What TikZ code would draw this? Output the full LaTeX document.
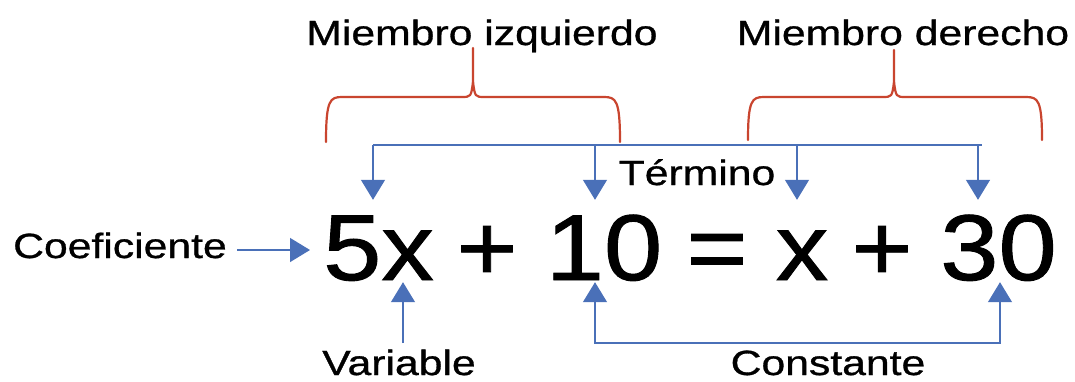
\documentclass[tikz,border=0pt]{standalone}
\usepackage{fontspec}
\usetikzlibrary{arrows.meta,positioning,calc}
\newfontfamily\lblfont{Liberation Sans}[FakeStretch=1.22,FakeBold=0.9]
\newfontfamily\eqfont{Liberation Sans}[FakeStretch=1.12,FakeBold=1]
\definecolor{BL}{HTML}{4A70B8}
\definecolor{RD}{HTML}{C9452F}

\tikzset{
  lbl/.style={font=\lblfont\fontsize{35}{40}\selectfont, anchor=base, inner sep=0pt},
  eqterm/.style={font=\eqfont\fontsize{93.5}{100}\selectfont, anchor=base,
                 inner sep=0pt, text height=80pt, text depth=2pt},
  bline/.style={draw=BL, line width=1.3pt},
  barrow/.style={bline, -{Triangle[width=24pt,length=20pt]}},
  bboth/.style={bline, {Triangle[width=24pt,length=20pt]}-{Triangle[width=24pt,length=20pt]}},
  brace/.style={draw=RD, line width=2.2pt, line cap=round, line join=round}
}

\begin{document}
\begin{tikzpicture}[x=1pt,y=-1pt]
    \path[use as bounding box, fill=white] (0,0) rectangle (1075,381);

    % equation
    \node[eqterm] (t5x)   at (378.5,280) {5x};
    \node[eqterm] (tpla)  at (487,280)   {+};
    \node[eqterm] (t10)   at (604,280)   {10};
    \node[eqterm] (teq)   at (717,280)   {=};
    \node[eqterm] (tx)    at (802,280)   {x};
    \node[eqterm] (tplb)  at (882,280)   {+};
    \node[eqterm] (t30)   at (998.5,280) {30};

    % labels
    \node[lbl] (izq)   at (482,45)  {Miembro izquierdo};
    \node[lbl] (der)   at (903,45)  {Miembro derecho};
    \node[lbl] (term)  at (697,185) {Término};
    \node[lbl] (coef)  at (120,258) {Coeficiente};
    \node[lbl] (var)   at (399,375) {Variable};
    \node[lbl] (const) at (828,375) {Constante};

    % braces
    \draw[brace] (326,142) .. controls (326,100) and (330,97) .. (342,97) -- (461,97)
                 .. controls (471,97) .. (473,82) -- (473,48);
    \draw[brace] (473,82) .. controls (475,97) .. (485,97) -- (604,97)
                 .. controls (616,97) and (620,100) .. (620,142);
    \draw[brace] (748,140) .. controls (748,100) and (752,97) .. (764,97) -- (882,97)
                 .. controls (892,97) .. (894,82) -- (894,50);
    \draw[brace] (894,82) .. controls (896,97) .. (906,97) -- (1026,97)
                 .. controls (1038,97) and (1042,100) .. (1042,140);

    % terminos
    \coordinate (tl) at (373,145);
    \coordinate (tr) at (982,145);
    \draw[bline] (tl) -- (tr);
    \draw[barrow] ([xshift=-5.5pt]t5x.north |- tl) -- ([xshift=-5.5pt]t5x.north);
    \draw[barrow] ([xshift=-9pt]t10.north |- tl) -- ([xshift=-9pt]t10.north);
    \draw[barrow] ([xshift=-5pt]tx.north |- tl) -- ([xshift=-5pt]tx.north);
    \draw[barrow] ([xshift=-20.5pt]t30.north |- tl) -- ([xshift=-20.5pt]t30.north);

    % coeficiente, variable, constante
    \draw[barrow] ([xshift=10pt,yshift=8pt]coef.base east) -- ([xshift=-13pt,yshift=8pt]coef.base east -| t5x.west);
    \coordinate (cb) at (600,343);
    \draw[barrow] ([xshift=24.5pt]t5x.south |- cb) -- ([xshift=24.5pt]t5x.south);
    \draw[bboth] ([xshift=-9pt]t10.south) |- (cb) -| ([xshift=1.5pt]t30.south);
\end{tikzpicture}
\end{document}
